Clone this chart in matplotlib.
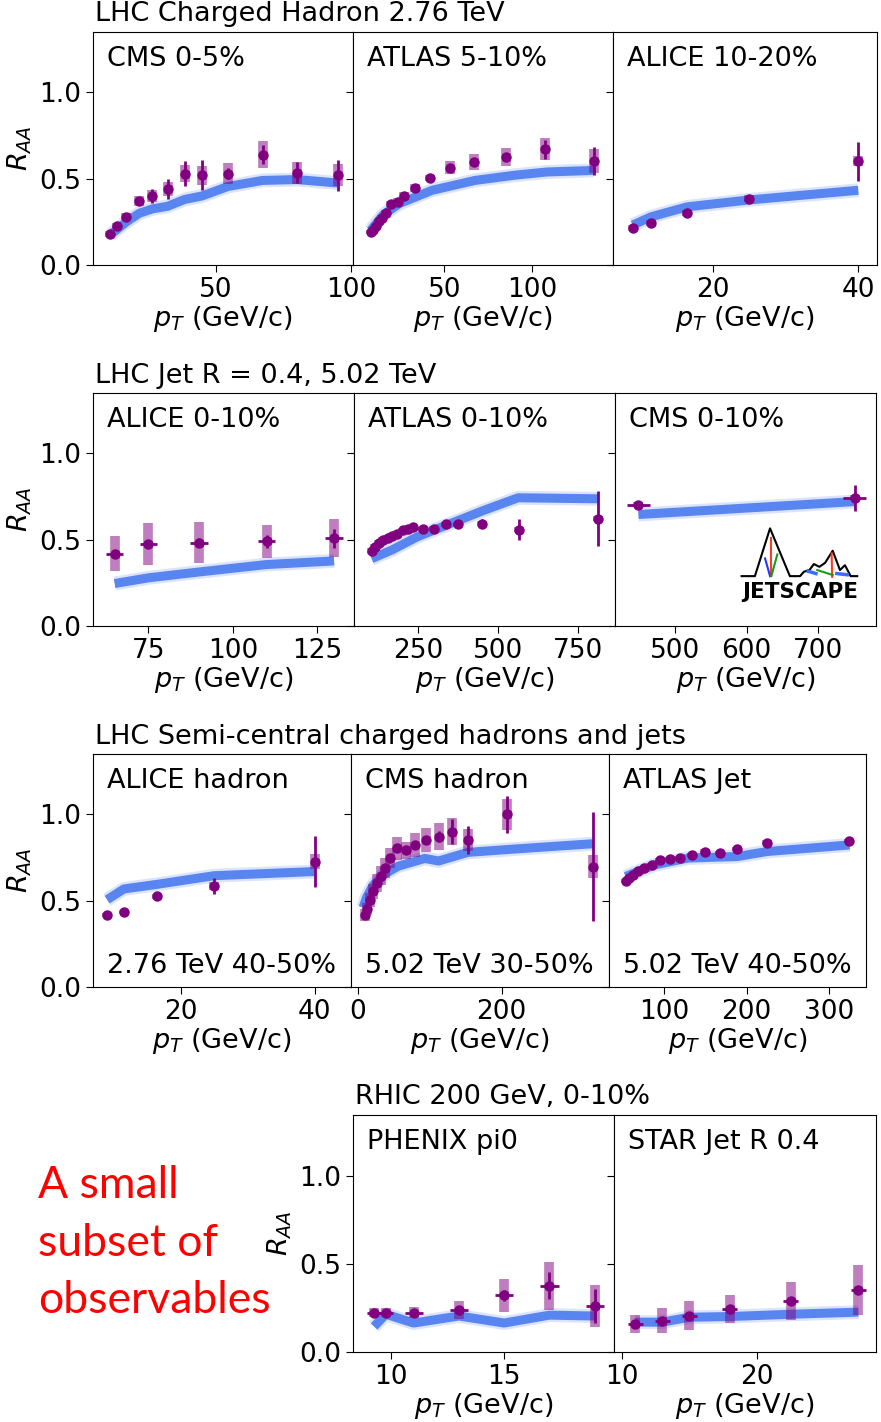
import matplotlib.pyplot as plt
import numpy as np

W, H = 881, 1422
BLUE = "#4b7bf0"
PURPLE = "purple"
FS = 19.5
TFS = 19

# ---------------- row 1: LHC charged hadrons 2.76 TeV ----------------
cms_h_x = [10.8, 13.2, 16.8, 21.6, 26.4, 32.0, 38.4, 44.8, 54.4, 67.2, 80.0, 95.0]
cms_h_y = [0.18, 0.225, 0.28, 0.37, 0.40, 0.44, 0.53, 0.52, 0.53, 0.64, 0.535, 0.52]
cms_h_stat = [0.01, 0.01, 0.012, 0.015, 0.043, 0.057, 0.074, 0.088, 0.03, 0.055, 0.06, 0.09]
cms_h_sys = [0.018, 0.018, 0.02, 0.028, 0.035, 0.04, 0.05, 0.055, 0.063, 0.077, 0.063, 0.065]
cms_h_mx = [10.8, 16.8, 21.6, 26.4, 32.0, 38.4, 44.8, 54.4, 67.2, 80.0, 95.0]
cms_h_my = [0.175, 0.25, 0.30, 0.325, 0.34, 0.38, 0.40, 0.455, 0.49, 0.495, 0.475]

atlas_h_x = [8.0, 9.5, 11.0, 12.8, 14.5, 16.6, 19.7, 23.5, 27.2, 33.2, 41.8, 53, 67, 85, 107.5, 135]
atlas_h_y = [0.19, 0.205, 0.225, 0.255, 0.273, 0.30, 0.352, 0.366, 0.40, 0.448, 0.504,
             0.564, 0.597, 0.626, 0.67, 0.602]
atlas_h_stat = [0.005, 0.005, 0.005, 0.005, 0.005, 0.006, 0.006, 0.007, 0.008, 0.01, 0.012,
                0.015, 0.02, 0.025, 0.053, 0.08]
atlas_h_sys = [0.012, 0.012, 0.013, 0.014, 0.015, 0.016, 0.018, 0.02, 0.022, 0.024, 0.02,
               0.036, 0.044, 0.053, 0.063, 0.068]
atlas_h_mx = [8.0, 15.1, 24.4, 43.1, 67.4, 89.8, 108.4, 135]
atlas_h_my = [0.20, 0.29, 0.356, 0.433, 0.49, 0.52, 0.539, 0.548]

alice_h_x = [9, 11.5, 16.5, 25, 40]
alice_h_y = [0.214, 0.244, 0.30, 0.385, 0.602]
alice_h_stat = [0.005, 0.006, 0.008, 0.012, 0.113]
alice_h_sys = [0.015, 0.016, 0.018, 0.02, 0.03]
alice_h_mx = [9, 11.5, 16.5, 25, 40]
alice_h_my = [0.231, 0.279, 0.337, 0.377, 0.433]

# ---------------- row 2: LHC jets R=0.4 5.02 TeV ----------------
alice_j_x = [65, 75, 90, 110, 130]
alice_j_y = [0.419, 0.477, 0.483, 0.49, 0.509]
alice_j_xerr = [2.6, 2.6, 2.6, 2.6, 2.6]
alice_j_stat = [0.02, 0.02, 0.025, 0.04, 0.055]
alice_j_sys = [0.1, 0.122, 0.117, 0.098, 0.112]
alice_j_mx = [65, 75, 90, 110, 130]
alice_j_my = [0.246, 0.279, 0.313, 0.356, 0.377]

atlas_j_x = [104, 114.7, 128, 140.6, 154, 168.8, 184, 203, 218.8, 234, 265.6, 299, 335.6,
             375, 450, 565.6, 812.5]
atlas_j_y = [0.435, 0.458, 0.481, 0.50, 0.512, 0.521, 0.535, 0.554, 0.564, 0.573, 0.56,
             0.564, 0.589, 0.589, 0.593, 0.558, 0.621]
atlas_j_stat = [0.008, 0.008, 0.008, 0.008, 0.008, 0.008, 0.008, 0.008, 0.008, 0.01, 0.01,
                0.01, 0.012, 0.015, 0.025, 0.062, 0.16]
atlas_j_sys = [0.015] * 17
atlas_j_mx = [104, 167, 245, 297, 453, 562, 812]
atlas_j_my = [0.39, 0.44, 0.515, 0.554, 0.669, 0.743, 0.737]

cms_j_x = [449, 751]
cms_j_y = [0.702, 0.743]
cms_j_xerr = [16, 16]
cms_j_stat = [0.02, 0.074]
cms_j_sys = [0.015, 0.015]
cms_j_mx = [449, 751]
cms_j_my = [0.646, 0.721]

# ---------------- row 3: semi-central hadrons and jets ----------------
alice_sc_x = [9, 11.5, 16.5, 25, 40]
alice_sc_y = [0.415, 0.435, 0.525, 0.585, 0.727]
alice_sc_stat = [0.005, 0.006, 0.01, 0.046, 0.148]
alice_sc_sys = [0.012, 0.013, 0.015, 0.025, 0.043]
alice_sc_mx = [9, 11.5, 16.5, 25, 40]
alice_sc_my = [0.506, 0.568, 0.595, 0.645, 0.669]

cms_sc_x = [9.3, 12.6, 16.4, 21, 26.6, 31.8, 37.4, 44.4, 54.7, 66.9, 79.5, 94.9, 112.2,
            130.9, 152.8, 207.9, 327]
cms_sc_y = [0.419, 0.452, 0.506, 0.554, 0.602, 0.645, 0.689, 0.747, 0.804, 0.791, 0.823,
            0.852, 0.871, 0.90, 0.852, 1.0, 0.698]
cms_sc_stat = [0.005, 0.005, 0.006, 0.007, 0.008, 0.009, 0.01, 0.012, 0.015, 0.018, 0.02,
               0.025, 0.03, 0.072, 0.082, 0.109, 0.317]
cms_sc_sys = [0.034, 0.035, 0.04, 0.045, 0.05, 0.055, 0.06, 0.06, 0.067, 0.05, 0.067,
              0.067, 0.077, 0.077, 0.063, 0.091, 0.064]
cms_sc_mx = [7, 12, 21, 37, 56, 93, 112, 153, 220, 327]
cms_sc_my = [0.46, 0.52, 0.59, 0.655, 0.70, 0.745, 0.73, 0.78, 0.80, 0.83]

atlas_sc_x = [53.1, 57.1, 62.3, 68.4, 75.7, 84.7, 94.8, 106.9, 119.1, 133.3, 149.5, 167.7,
              188.8, 225.2, 324.9]
atlas_sc_y = [0.612, 0.631, 0.65, 0.67, 0.689, 0.708, 0.737, 0.741, 0.747, 0.766, 0.785,
              0.776, 0.80, 0.837, 0.848]
atlas_sc_stat = [0.006] * 15
atlas_sc_sys = [0.012] * 15
atlas_sc_mx = [53, 68.4, 88.7, 129, 188.8, 225, 325]
atlas_sc_my = [0.64, 0.67, 0.708, 0.747, 0.756, 0.785, 0.823]

# ---------------- row 4: RHIC 200 GeV ----------------
phenix_x = [9.25, 9.77, 11, 13, 15, 17, 19]
phenix_y = [0.225, 0.225, 0.225, 0.24, 0.322, 0.377, 0.263]
phenix_xerr = [0.3, 0.3, 0.4, 0.4, 0.4, 0.4, 0.4]
phenix_stat = [0.01, 0.01, 0.01, 0.012, 0.033, 0.076, 0.098]
phenix_sys = [0.023, 0.025, 0.033, 0.05, 0.092, 0.135, 0.12]
phenix_mx = [9.25, 9.77, 11, 13, 15, 17, 19]
phenix_my = [0.145, 0.215, 0.165, 0.205, 0.165, 0.21, 0.205]

star_x = [11, 13, 15, 18, 22.5, 27.5]
star_y = [0.158, 0.179, 0.207, 0.246, 0.29, 0.354]
star_xerr = [0.55] * 6
star_stat = [0.01] * 6
star_sys = [0.052, 0.071, 0.081, 0.081, 0.11, 0.143]
star_mx = [11, 13, 15, 18, 22.5, 27.5]
star_my = [0.17, 0.17, 0.198, 0.202, 0.215, 0.227]


def box(l, t, r, b):
    return [l / W, 1 - b / H, (r - l) / W, (b - t) / H]


def draw_panel(ax, x, y, stat, sys, mx, my, xerr=None):
    # model band: many posterior curves -> blurry thick line
    ax.plot(mx, my, color=BLUE, lw=10, alpha=0.2, solid_capstyle="butt", zorder=1)
    ax.plot(mx, my, color=BLUE, lw=6.5, alpha=0.9, solid_capstyle="butt", zorder=1)
    y = np.array(y)
    sys = np.array(sys)
    ax.vlines(x, y - sys, y + sys, color=PURPLE, alpha=0.5, lw=7, zorder=2)
    ax.errorbar(x, y, yerr=stat, xerr=xerr, fmt="o", color=PURPLE, ms=6.5,
                elinewidth=2, capsize=0, zorder=3)


fig = plt.figure(figsize=(W / 100, H / 100), dpi=100)

rows = [
    dict(top=32, bottom=265, xs=[93, 353, 613, 877], title="LHC Charged Hadron 2.76 TeV",
         tx=95, ty=14),
    dict(top=393, bottom=626, xs=[93, 354, 615, 876], title="LHC Jet R = 0.4, 5.02 TeV",
         tx=95, ty=376),
    dict(top=754, bottom=987, xs=[93, 351, 609, 866],
         title="LHC Semi-central charged hadrons and jets", tx=95, ty=737),
    dict(top=1115, bottom=1352, xs=[353, 614, 876], title="RHIC 200 GeV, 0-10%",
         tx=355, ty=1097),
]

panels = [
    [("CMS 0-5%", None, (cms_h_x, cms_h_y, cms_h_stat, cms_h_sys, cms_h_mx, cms_h_my, None),
      (4.4, 100.7), [50, 100]),
     ("ATLAS 5-10%", None, (atlas_h_x, atlas_h_y, atlas_h_stat, atlas_h_sys, atlas_h_mx,
                            atlas_h_my, None), (-2, 146), [50, 100]),
     ("ALICE 10-20%", None, (alice_h_x, alice_h_y, alice_h_stat, alice_h_sys, alice_h_mx,
                             alice_h_my, None), (6.3, 42.57), [20, 40])],
    [("ALICE 0-10%", None, (alice_j_x, alice_j_y, alice_j_stat, alice_j_sys, alice_j_mx,
                            alice_j_my, alice_j_xerr), (58.6, 135.9), [75, 100, 125]),
     ("ATLAS 0-10%", None, (atlas_j_x, atlas_j_y, atlas_j_stat, atlas_j_sys, atlas_j_mx,
                            atlas_j_my, None), (49, 864.6), [250, 500, 750]),
     ("CMS 0-10%", None, (cms_j_x, cms_j_y, cms_j_stat, cms_j_sys, cms_j_mx, cms_j_my,
                          cms_j_xerr), (416.3, 780.5), [500, 600, 700])],
    [("ALICE hadron", "2.76 TeV 40-50%", (alice_sc_x, alice_sc_y, alice_sc_stat, alice_sc_sys,
                                          alice_sc_mx, alice_sc_my, None), (6.9, 45.4), [20, 40]),
     ("CMS hadron", "5.02 TeV 30-50%", (cms_sc_x, cms_sc_y, cms_sc_stat, cms_sc_sys,
                                        cms_sc_mx, cms_sc_my, None), (-9.8, 349.5), [0, 200]),
     ("ATLAS Jet", "5.02 TeV 40-50%", (atlas_sc_x, atlas_sc_y, atlas_sc_stat, atlas_sc_sys,
                                       atlas_sc_mx, atlas_sc_my, None), (32.8, 345),
      [100, 200, 300])],
    [("PHENIX pi0", None, (phenix_x, phenix_y, phenix_stat, phenix_sys, phenix_mx, phenix_my,
                           phenix_xerr), (8.32, 19.85), [10, 15]),
     ("STAR Jet R 0.4", None, (star_x, star_y, star_stat, star_sys, star_mx, star_my,
                               star_xerr), (9.43, 28.8), [10, 20])],
]

logo_ax = None
for row, plist in zip(rows, panels):
    fig.text(row["tx"] / W, 1 - row["ty"] / H, row["title"], fontsize=FS,
             ha="left", va="center")
    for i, (label, sub, data, xlim, xt) in enumerate(plist):
        ax = fig.add_axes(box(row["xs"][i], row["top"], row["xs"][i + 1], row["bottom"]))
        x, y, stat, sys, mx, my, xerr = data
        draw_panel(ax, x, y, stat, sys, mx, my, xerr)
        ax.set_xlim(*xlim)
        ax.set_ylim(0, 1.35)
        ax.set_xticks(xt)
        ax.set_yticks([0.0, 0.5, 1.0])
        ax.tick_params(labelsize=TFS, length=5)
        ax.set_xlabel(r"$p_T$ (GeV/c)", fontsize=FS, labelpad=1)
        if i == 0:
            ax.set_ylabel(r"$R_{AA}$", fontsize=FS)
        else:
            ax.set_yticklabels([])
        ax.text(0.054, 0.94, label, transform=ax.transAxes, fontsize=FS,
                ha="left", va="top")
        if sub:
            ax.text(0.054, 0.062, sub, transform=ax.transAxes, fontsize=FS,
                    ha="left", va="baseline")
        if label == "CMS 0-10%":
            logo_ax = ax

# JETSCAPE logo (sketch) in the CMS jet panel
tr = logo_ax.transAxes
mount_x = [0.485, 0.536, 0.594, 0.670, 0.709, 0.724, 0.745, 0.762, 0.783, 0.805, 0.834,
           0.862, 0.881, 0.903, 0.928]
mount_y = [0.214, 0.214, 0.419, 0.214, 0.214, 0.233, 0.24, 0.266, 0.254, 0.271, 0.323,
           0.24, 0.261, 0.214, 0.214]
logo_ax.plot(mount_x, mount_y, color="black", lw=1.5, transform=tr, zorder=4)
logo_ax.plot([0.597, 0.597], [0.376, 0.214], color="#ff3b1f", lw=1.5, transform=tr, zorder=4)
logo_ax.plot([0.575, 0.594], [0.29, 0.214], color="#1f3bff", lw=1.5, transform=tr, zorder=4)
logo_ax.plot([0.622, 0.599], [0.307, 0.214], color="#1a9a1a", lw=1.5, transform=tr, zorder=4)
logo_ax.plot([0.83, 0.832], [0.312, 0.211], color="#ff3b1f", lw=1.5, transform=tr, zorder=4)
logo_ax.plot([0.775, 0.834], [0.24, 0.219], color="#1a9a1a", lw=1.5, transform=tr, zorder=4)
logo_ax.plot([0.74, 0.77], [0.235, 0.225], color="#3b6bff", lw=2.5, transform=tr, zorder=4)
logo_ax.plot([0.85, 0.89], [0.225, 0.22], color="#3b6bff", lw=2.5, transform=tr, zorder=4)
logo_ax.text(0.709, 0.148, "JETSCAPE", transform=tr, fontsize=15.5, fontweight="heavy",
             ha="center", va="center", zorder=4)

# red annotation
red_lines = ["A small", "subset of", "observables"]
red_base = [1198, 1256, 1313]
for line, yb in zip(red_lines, red_base):
    fig.text(38 / W, 1 - yb / H, line, fontsize=32, color="red", family="Lato",
             ha="left", va="baseline")

fig.savefig("out.png", dpi=100)
